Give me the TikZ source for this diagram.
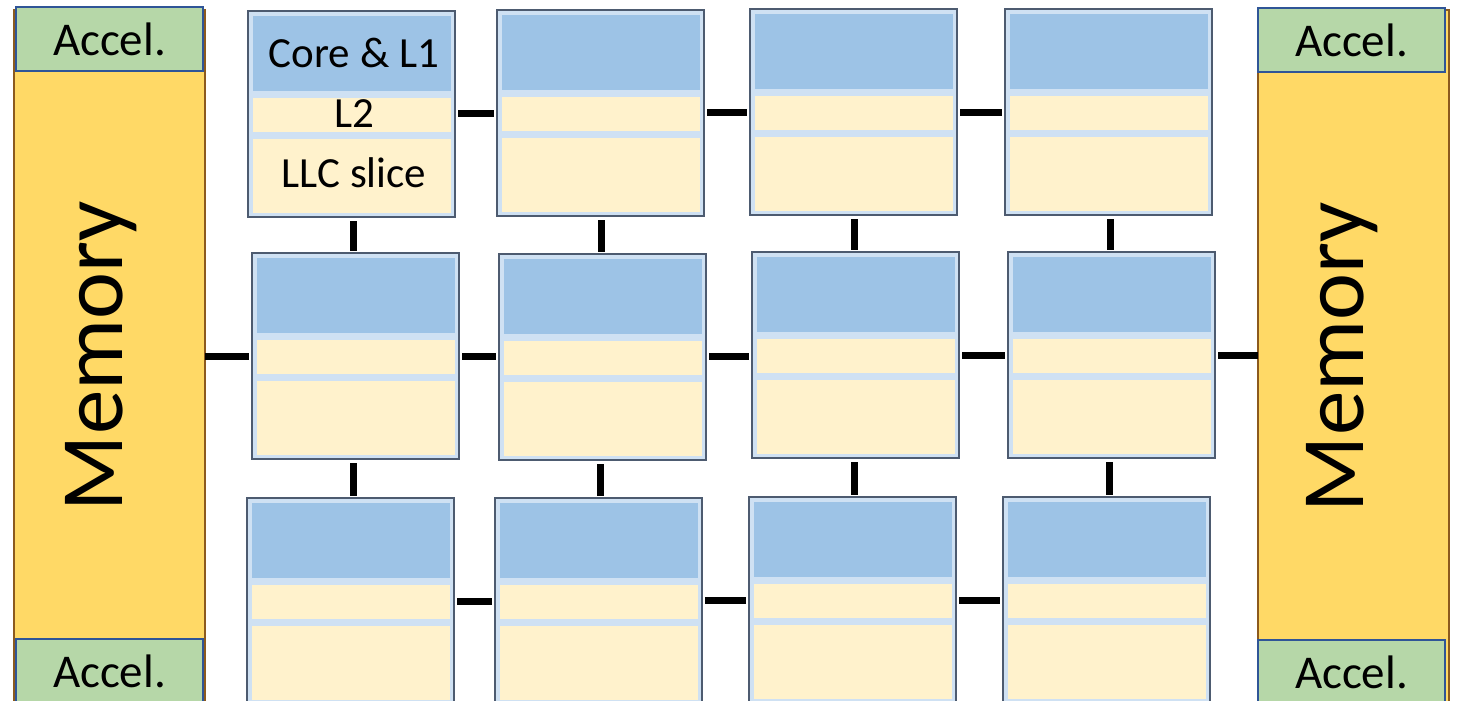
\documentclass[tikz,border=0pt]{standalone}
\usepackage{fontspec}
\setmainfont{Carlito}
\usetikzlibrary{calc}
\definecolor{memgold}{HTML}{FFD966}
\definecolor{membrown}{HTML}{8C5A1E}
\definecolor{accgreen}{HTML}{B6D7A8}
\definecolor{accblue}{HTML}{2F5597}
\definecolor{tileborder}{HTML}{4D5B70}
\definecolor{tilelight}{HTML}{CFE1F3}
\definecolor{coreblue}{HTML}{9DC3E6}
\definecolor{cacheyellow}{HTML}{FFF2CC}
\tikzset{
  x=1pt, y=1pt,
  tilebox/.style={draw=tileborder, line width=2pt, fill=tilelight, rectangle,
    minimum width=207pt, minimum height=206pt, inner sep=0pt, outer sep=0pt, anchor=north west},
  membox/.style={draw=membrown, line width=1.5pt, fill=memgold, rectangle,
    minimum width=191pt, minimum height=710pt, inner sep=0pt, outer sep=0pt, anchor=north west},
  accbox/.style={draw=accblue, line width=2pt, fill=accgreen, rectangle,
    minimum width=187pt, minimum height=64pt, inner sep=0pt, outer sep=0pt, anchor=north west,
    font=\fontsize{47}{50}\selectfont},
  memtext/.style={rotate=90, anchor=base, inner sep=0pt, font=\fontsize{89}{90}\selectfont},
  tiletext/.style={anchor=base, inner sep=0pt, font=\fontsize{43}{45}\selectfont},
  link/.style={draw=black, line width=7pt},
}
\newcommand\mytile[3]{%
  \node[tilebox] (#1) at (#2,-#3) {};
  \fill[coreblue] ([shift={(5pt,-5pt)}]#1.north west) rectangle ([shift={(-4pt,-80pt)}]#1.north east);
  \fill[cacheyellow] ([shift={(5pt,-87pt)}]#1.north west) rectangle ([shift={(-4pt,-121pt)}]#1.north east);
  \fill[cacheyellow] ([shift={(5pt,-128pt)}]#1.north west) rectangle ([shift={(-4pt,4pt)}]#1.south east);
}
\newcommand\hlink[2]{%
  \coordinate (h-#1-#2) at ($(#1.center)!.5!(#2.center)$);
  \draw[link, shorten <=3pt, shorten >=3pt] (#1.east |- h-#1-#2) -- (#2.west |- h-#1-#2);
}
\newcommand\vlink[2]{%
  \coordinate (v-#1-#2) at ($(#1.center)!.5!(#2.center)$);
  \draw[link, shorten <=4pt, shorten >=2pt] (v-#1-#2 |- #1.south) -- (v-#1-#2 |- #2.north);
}
\begin{document}
\begin{tikzpicture}
\useasboundingbox (0,0) rectangle (1460,-701);
\clip (0,0) rectangle (1460,-701);
\fill[white] (0,0) rectangle (1460,-701);

% memory columns
\node[membox] (memL) at (14,-10) {};
\node[membox] (memR) at (1258,-10) {};
\node[memtext] (memLt) at (122,-356) {Memory};
\node[memtext] (memRt) at (1363,-357) {Memory};

% accelerators
\node[accbox] (accLT) at (16,-7) {Accel.};
\node[accbox] (accLB) at (16,-639) {Accel.};
\node[accbox] (accRT) at (1258,-8) {Accel.};
\node[accbox] (accRB) at (1258,-640) {Accel.};

% tiles
\mytile{t11}{248}{11}
\mytile{t12}{497}{10}
\mytile{t13}{750}{9}
\mytile{t14}{1005}{9}
\mytile{t21}{252}{253}
\mytile{t22}{499}{254}
\mytile{t23}{752}{252}
\mytile{t24}{1008}{252}
\mytile{t31}{247}{498}
\mytile{t32}{495}{498}
\mytile{t33}{749}{497}
\mytile{t34}{1003}{497}

% tile labels
\node[tiletext] (lcore) at (354,-67) {Core \& L1};
\node[tiletext] (ll2) at (354,-127) {L2};
\node[tiletext] (lllc) at (354,-187) {LLC slice};

% horizontal links
\hlink{t11}{t12}\hlink{t12}{t13}\hlink{t13}{t14}
\hlink{t21}{t22}\hlink{t22}{t23}\hlink{t23}{t24}
\hlink{t31}{t32}\hlink{t32}{t33}\hlink{t33}{t34}
\draw[link, shorten >=3pt] (memL.east |- t21.west) -- (t21.west);
\draw[link, shorten <=3pt] (t24.east) -- (memR.west |- t24.east);

% vertical links
\vlink{t11}{t21}\vlink{t12}{t22}\vlink{t13}{t23}\vlink{t14}{t24}
\vlink{t21}{t31}\vlink{t22}{t32}\vlink{t23}{t33}\vlink{t24}{t34}
\end{tikzpicture}
\end{document}
